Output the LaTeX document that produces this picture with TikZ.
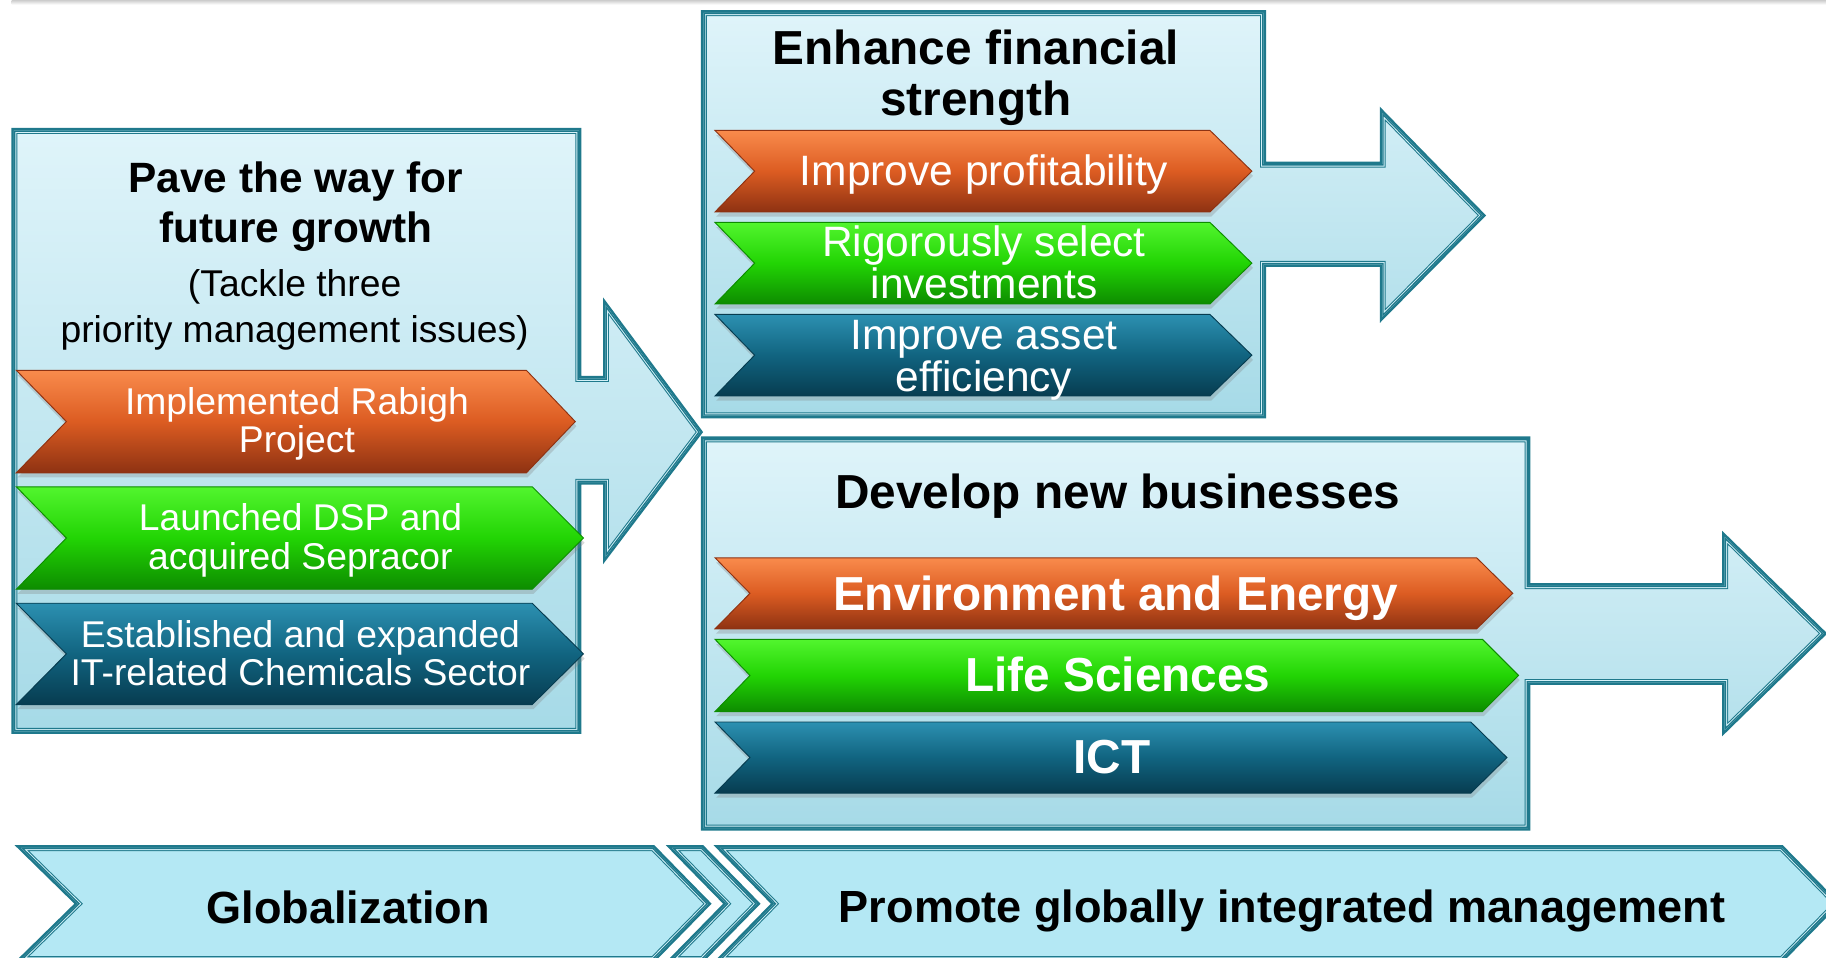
\documentclass[tikz,border=0pt]{standalone}
\usepackage{fontspec}
\setmainfont{Liberation Sans}
\usepackage{tikz}
\usetikzlibrary{shadows}
\definecolor{frameteal}{HTML}{1F798C}
\definecolor{framegap}{HTML}{D4F1F8}
\definecolor{boxtop}{HTML}{DFF4FA}
\definecolor{boxbot}{HTML}{A6DAE7}
\definecolor{bandfill}{HTML}{B4E8F4}
\definecolor{orangetop}{HTML}{F98B4C}
\definecolor{orangemid}{HTML}{DC5C22}
\definecolor{orangebot}{HTML}{8E3212}
\definecolor{greentop}{HTML}{52F52E}
\definecolor{greenmid}{HTML}{22D404}
\definecolor{greenbot}{HTML}{0D8C00}
\definecolor{bluetop}{HTML}{2C90B1}
\definecolor{bluemid}{HTML}{116480}
\definecolor{bluebot}{HTML}{073C50}
\newcommand{\fsz}[2]{\fontsize{#1}{#2}\selectfont}
% chevron outline: left x, corner x, tip x, top y, bottom y, notch depth
\newcommand{\chevpath}[6]{(#1,#4) -- (#2,#4) -- (#3,{(#4+#5)/2}) -- (#2,#5) -- (#1,#5)
    -- ({#1+#6},{(#4+#5)/2}) -- cycle}
% filled outline with a thick outer and a thin inner rule
\newcommand{\framed}[2]{%
  \path[#1] #2;
  \draw[frameteal, line width=4.4pt] #2;
  \begin{scope}
    \clip #2;
    \draw[frameteal, line width=5.8pt] #2;
    \draw[framegap, line width=4pt] #2;
    \draw[frameteal, line width=2.4pt] #2;
  \end{scope}}

\begin{document}
\begin{tikzpicture}[x=1pt,y=-1pt,
    panel/.style={top color=boxtop, bottom color=boxbot},
    band/.style={fill=bandfill},
    bar/.style={line width=0.8pt, drop shadow={opacity=0.3, shadow xshift=1pt, shadow yshift=-4pt}},
    orangebar/.style={bar, top color=orangetop, bottom color=orangebot, middle color=orangemid, draw=orangebot},
    greenbar/.style={bar, top color=greentop, bottom color=greenbot, middle color=greenmid, draw=greenbot},
    bluebar/.style={bar, top color=bluetop, bottom color=bluebot, middle color=bluemid, draw=bluebot},
    heading/.style={align=center, font=\bfseries\fsz{41}{44}},
    bartext/.style={align=center, text=white}]
  \useasboundingbox (0,0) rectangle (1568,822);
  \shade[top color=black!20, bottom color=white] (10,0) rectangle (1568,4);

  % panels with their arrows
  \framed{panel}{(12,112) -- (497,112) -- (497,325) -- (520,325) -- (520,262)
    -- (601,371) -- (520,478) -- (520,414) -- (497,414) -- (497,628) -- (12,628) -- cycle}
  \framed{panel}{(604,11) -- (1085,11) -- (1085,141) -- (1187,141) -- (1187,97)
    -- (1273,185) -- (1187,272) -- (1187,227) -- (1085,227) -- (1085,357) -- (604,357) -- cycle}
  \framed{panel}{(604,377) -- (1312,377) -- (1312,503) -- (1481,503) -- (1481,461)
    -- (1566,544) -- (1481,627) -- (1481,586) -- (1312,586) -- (1312,711) -- (604,711) -- cycle}

  % future growth
  \node[align=center, font=\bfseries\fsz{36.4}{43}] (growth) at (254,177.5) {Pave the way for\\future growth};
  \node[align=center, font=\fsz{32}{39}] (growthsub) at (253,266) {(Tackle three\\priority management issues)};
  \path[orangebar] \chevpath{14}{452}{494}{318}{406}{43};
  \path[greenbar] \chevpath{14}{457}{501}{418}{506}{43};
  \path[bluebar] \chevpath{14}{457}{501}{518}{605}{43};
  \node[bartext, font=\fsz{32}{33}] (rabigh) at (255,364) {Implemented Rabigh\\Project};
  \node[bartext, font=\fsz{32}{34}] (dsp) at (258,464) {Launched DSP and\\acquired Sepracor};
  \node[bartext, font=\fsz{32}{33}] (itchem) at (258,561) {Established and expanded\\IT-related Chemicals Sector};

  % financial strength
  \node[heading] (finance) at (838,67) {Enhance financial\\strength};
  \path[orangebar] \chevpath{614}{1039}{1075}{112}{182}{34};
  \path[greenbar] \chevpath{614}{1039}{1075}{191}{261}{34};
  \path[bluebar] \chevpath{614}{1039}{1075}{270}{340}{34};
  \node[bartext, font=\fsz{36.5}{36}] (profit) at (845,150) {Improve profitability};
  \node[bartext, font=\fsz{36.5}{36}] (invest) at (845,225.5) {Rigorously select\\investments};
  \node[bartext, font=\fsz{36.5}{36}] (asset) at (845,309) {Improve asset\\efficiency};

  % new businesses
  \node[heading] (newbiz) at (960,426) {Develop new businesses};
  \path[orangebar] \chevpath{614}{1268}{1299}{479}{540}{30};
  \path[greenbar] \chevpath{614}{1273}{1304}{549}{611}{30};
  \path[bluebar] \chevpath{614}{1263}{1294}{620}{681}{30};
  \node[bartext, font=\bfseries\fsz{41}{44}] (energy) at (958,514) {Environment and Energy};
  \node[bartext, font=\bfseries\fsz{41}{44}] (life) at (960,579) {Life Sciences};
  \node[bartext, font=\bfseries\fsz{41}{44}] (ict) at (955,650) {ICT};

  % bottom band
  \framed{band}{\chevpath{18}{561}{608}{728}{824}{49}}
  \framed{band}{\chevpath{577}{603}{650}{728}{824}{47}}
  \framed{band}{\chevpath{618}{1530}{1577}{728}{824}{47}}
  \node[font=\bfseries\fsz{38.7}{44}] (global) at (299,779) {Globalization};
  \node[font=\bfseries\fsz{38.7}{44}] (integrated) at (1101,782) {Promote globally integrated management};
\end{tikzpicture}
\end{document}
